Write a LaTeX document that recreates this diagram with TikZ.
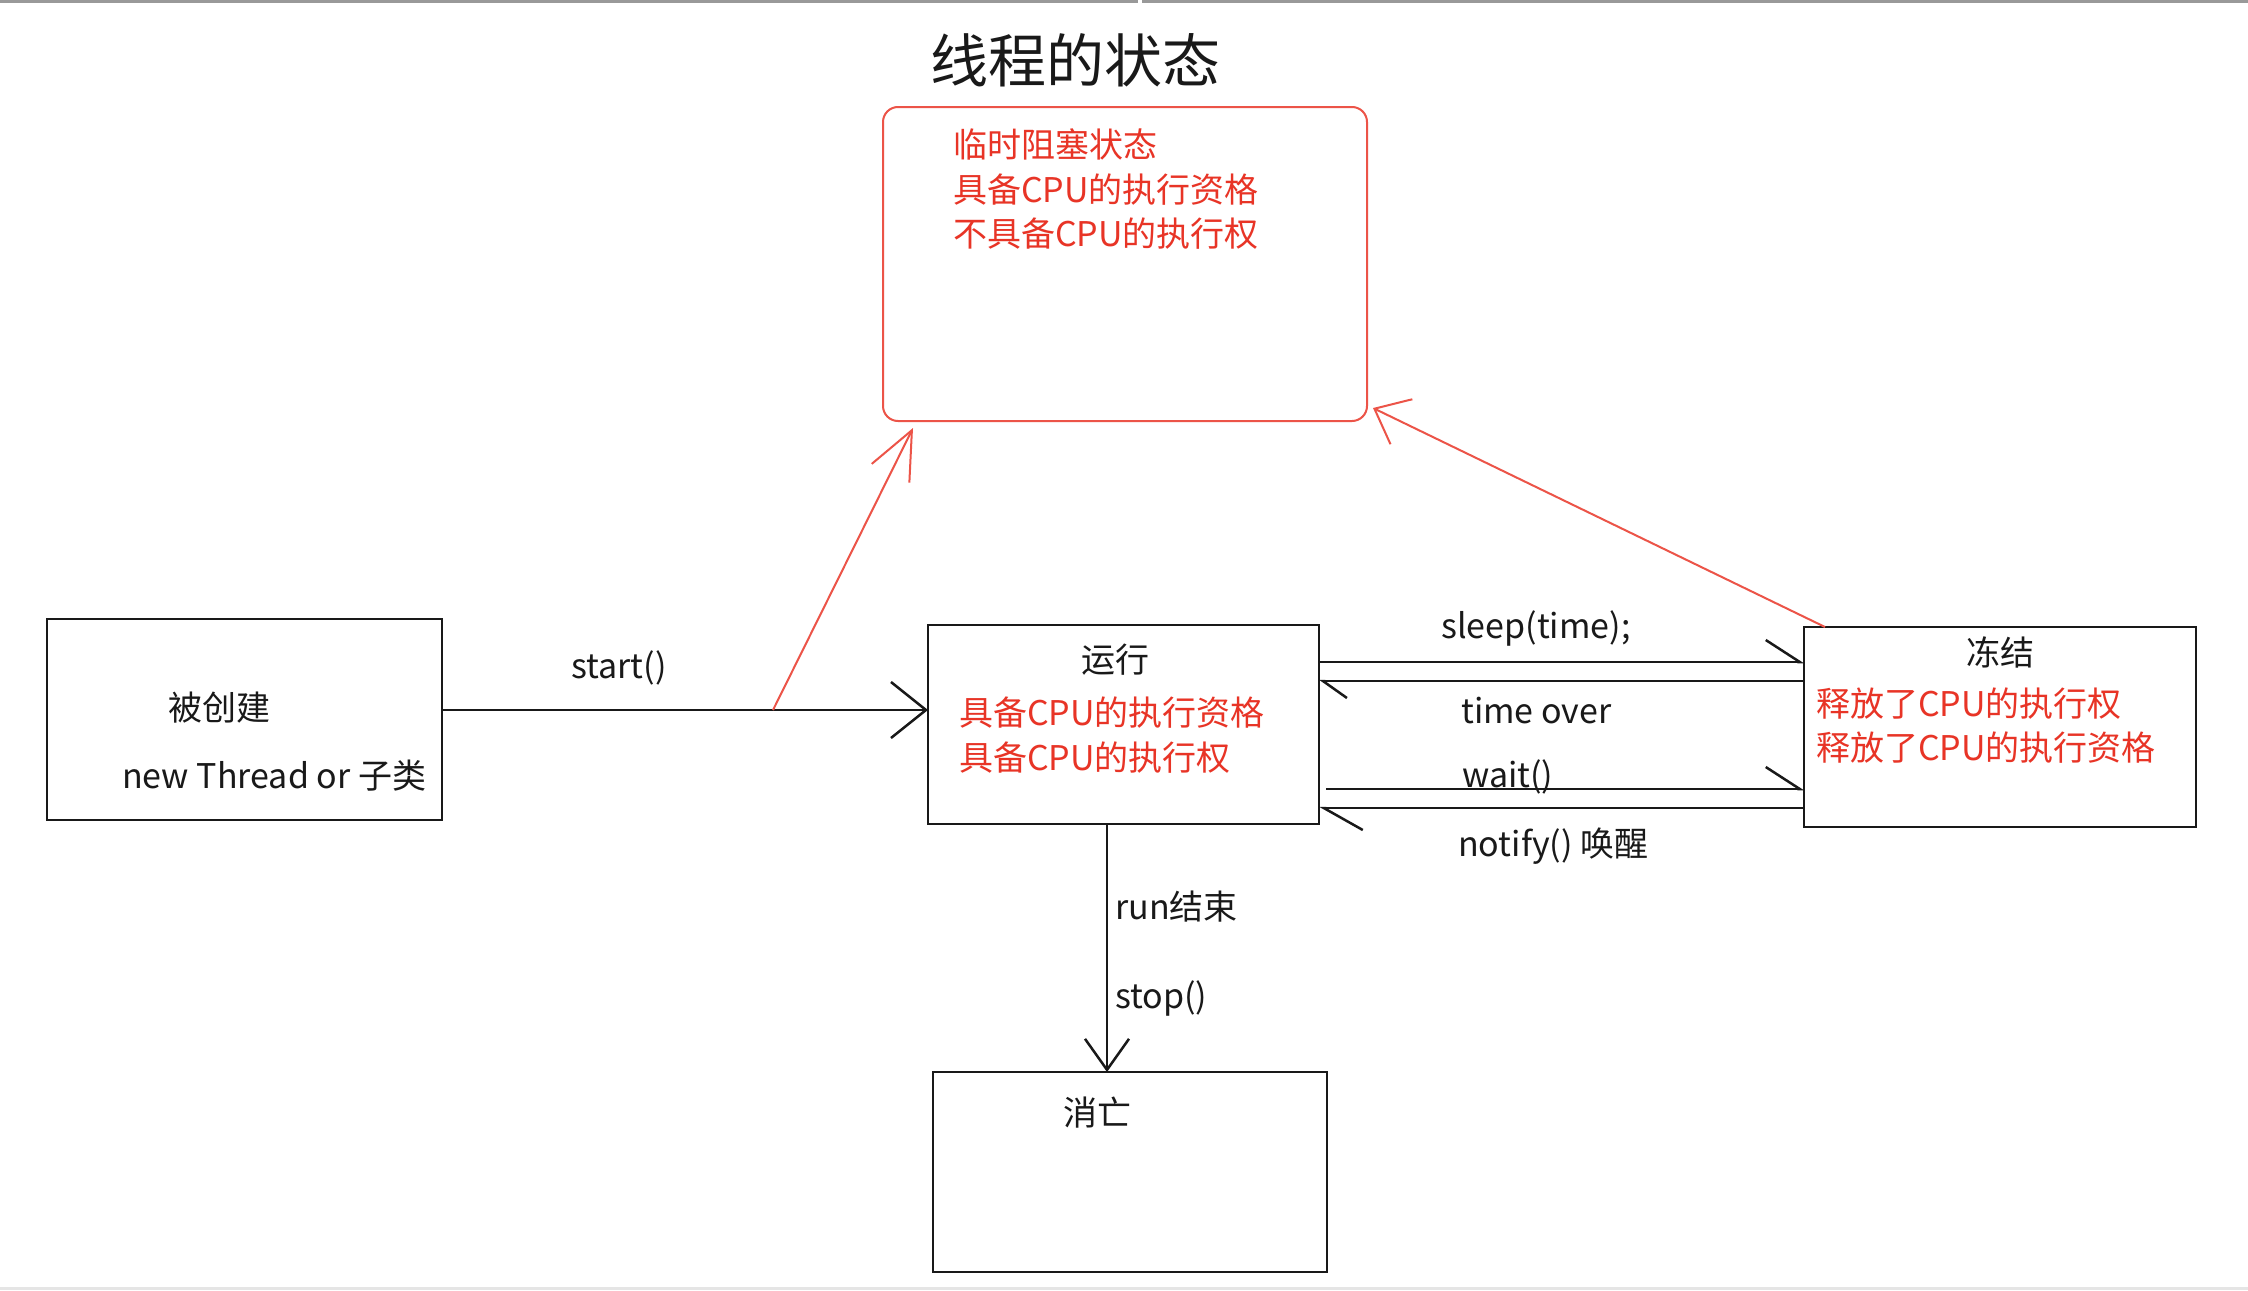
\documentclass[tikz,border=0pt]{standalone}
\usepackage{fontspec}
\setmainfont{Noto Sans CJK SC}
\usetikzlibrary{arrows.meta,calc}
\definecolor{redline}{RGB}{236,84,72}
\definecolor{redtext}{RGB}{232,52,38}
\definecolor{ink}{RGB}{25,25,25}
\begin{document}
\begin{tikzpicture}[x=1pt,y=-1pt,
  state/.style={draw=ink, line width=2.5pt, inner sep=0pt, outer sep=0pt, anchor=north west},
  lbl/.style={anchor=west, inner sep=0pt, text=ink, font=\fontsize{34}{40}\selectfont},
  redlbl/.style={anchor=west, inner sep=0pt, text=redtext, align=left, font=\fontsize{34}{44.5}\selectfont},
  flow/.style={draw=ink, line width=2.5pt},
  redflow/.style={draw=redline, line width=2pt},
  vtip/.style={-{Straight Barb[length=35pt,width=56pt]}},
  downtip/.style={-{Straight Barb[length=31pt,width=44pt]}},
  redtip/.style={-{Straight Barb[length=48pt,width=42pt]}},
  redtipb/.style={-{Straight Barb[length=30pt,width=50pt]}},
  harp/.style={-{Straight Barb[harpoon,length=34pt,width=44pt]}},
  harpshort/.style={-{Straight Barb[harpoon,length=24pt,width=34pt]}},
  harplong/.style={-{Straight Barb[harpoon,length=39pt,width=44pt]}}
]
\useasboundingbox (0,0) rectangle (2248,1290);
\fill[white] (0,0) rectangle (2248,1290);
% thin window edges
\fill[black!40] (0,0) rectangle (1138,3);
\fill[black!40] (1142,0) rectangle (2248,3);
\fill[black!10] (0,1287) rectangle (2248,1290);

% title
\node[anchor=west, inner sep=0pt, text=ink, font=\fontsize{58}{60}\selectfont] (title) at (930,60) {线程的状态};

% blocked state
\node[draw=redline, line width=2pt, rounded corners=15pt, inner sep=0pt, outer sep=0pt,
      minimum width=484pt, minimum height=314pt, anchor=north west] (blocked) at (883,107) {};
\node[redlbl] (blockedtxt) at (953,189.5) {临时阻塞状态\\具备CPU的执行资格\\不具备CPU的执行权};

% created
\node[state, minimum width=395pt, minimum height=201pt] (created) at (47,619) {};
\node[lbl] (createdtxt) at (168,708) {被创建};
\node[lbl] (createdsub) at (122,776) {new Thread or 子类};

% running
\node[state, minimum width=391pt, minimum height=199pt] (run) at (928,625) {};
\node[lbl, anchor=center] (runtxt) at (1115,660) {运行};
\node[redlbl] (runred) at (959,735) {具备CPU的执行资格\\具备CPU的执行权};

% frozen
\node[state, minimum width=392pt, minimum height=200pt] (frozen) at (1804,627) {};
\node[lbl, anchor=center] (frozentxt) at (2000,652) {冻结};
\node[redlbl] (frozenred) at (1816,725.5) {释放了CPU的执行权\\释放了CPU的执行资格};

% dead
\node[state, minimum width=394pt, minimum height=200pt] (dead) at (933,1072) {};
\node[lbl] (deadtxt) at (1063,1113) {消亡};

% start()
\coordinate (fork) at (773,710);
\draw[flow, vtip] (fork -| created.east) -- (fork -| run.west);
\node[lbl] (startlbl) at (571,668) {start()};
\draw[redflow, redtip] (fork) -- ([xshift=30pt,yshift=-7pt]blocked.south west);

% frozen back to blocked
\draw[redflow, redtipb] ([xshift=21pt]frozen.north west) -- ([xshift=6pt,yshift=13pt]blocked.south east);

% sleep / time over
\coordinate (sl) at ([yshift=-37pt]run.north east);
\coordinate (tov) at ([yshift=-56pt]run.north east);
\draw[flow, harp] (sl) -- (sl -| frozen.west);
\draw[flow, harpshort] (tov -| frozen.west) -- (tov);
\node[lbl] (sleeplbl) at (1441,628) {sleep(time);};
\node[lbl] (tovlbl) at (1461,711) {time over};

% wait / notify
\coordinate (wt) at ([xshift=7pt,yshift=-164pt]run.north east);
\coordinate (nt) at ([yshift=-183pt]run.north east);
\draw[flow, harp] (wt) -- (wt -| frozen.west);
\draw[flow, harplong] (nt -| frozen.west) -- (nt);
\node[lbl] (waitlbl) at (1462,777) {wait()};
\node[lbl] (notifylbl) at (1458,846) {notify() 唤醒};

% run end
\coordinate (rd) at ([xshift=-16.5pt]run.south);
\draw[flow, downtip] (rd) -- (rd |- dead.north);
\node[lbl] (runendlbl) at (1115,907) {run结束};
\node[lbl] (stoplbl) at (1115,998) {stop()};
\end{tikzpicture}
\end{document}
